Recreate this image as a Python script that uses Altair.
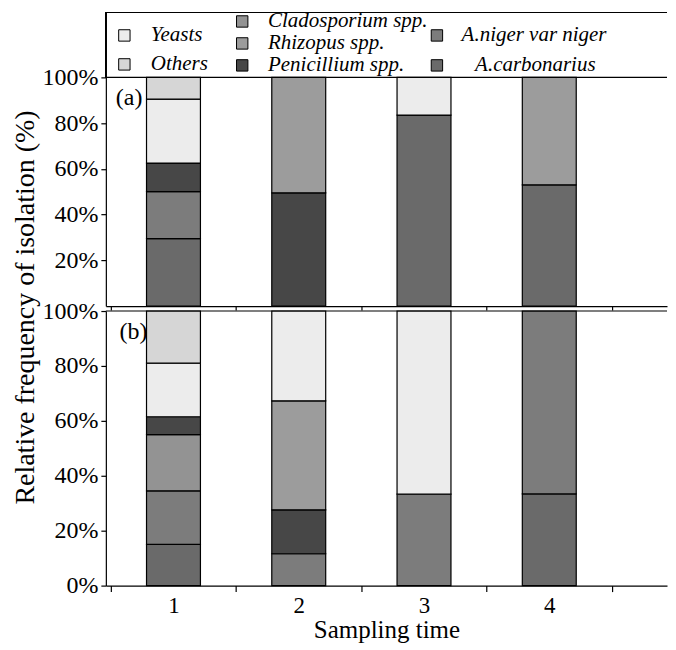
import altair as alt
import pandas as pd

# ---------------- data ----------------
times = [1, 2, 3, 4]
species = ["A.carbonarius", "A.niger var niger", "Cladosporium spp.",
           "Penicillium spp.", "Rhizopus spp.", "Yeasts", "Others"]

# panel (a): relative frequency (%) per sampling time 1..4
carbonarius_a = [29.5, 0, 83.5, 53.0]
niger_a = [20.5, 0, 0, 0]
clado_a = [0, 0, 0, 0]
penicillium_a = [12.5, 49.5, 0, 0]
rhizopus_a = [0, 50.5, 0, 47.0]
yeasts_a = [28.0, 0, 16.5, 0]
others_a = [9.5, 0, 0, 0]

# panel (b)
carbonarius_b = [15.0, 0, 0, 33.4]
niger_b = [19.5, 11.6, 33.3, 66.6]
clado_b = [20.5, 0, 0, 0]
penicillium_b = [6.5, 16.0, 0, 0]
rhizopus_b = [0, 39.7, 0, 0]
yeasts_b = [19.5, 32.7, 66.7, 0]
others_b = [19.0, 0, 0, 0]

y_ticks_a = [20, 40, 60, 80, 100]
y_ticks_b = [0, 20, 40, 60, 80, 100]
x_axis_values = [0.5, 1, 1.5, 2, 2.5, 3, 3.5, 4, 4.5]

# legend layout (column / row placement in legend box units)
legend_names = ["Yeasts", "Others", "Cladosporium spp.", "Rhizopus spp.",
                "Penicillium spp.", "A.niger var niger", "A.carbonarius"]
legend_sym_x = [0.033, 0.033, 0.243, 0.243, 0.243, 0.590, 0.590]
legend_txt_x = [0.080, 0.080, 0.289, 0.289, 0.289, 0.634, 0.658]
legend_row = [23, 52, 9, 31, 53, 23, 53]

fills = ["#6a6a6a", "#7c7c7c", "#939393", "#474747", "#9c9c9c", "#ececec", "#d6d6d6"]

FONT = "Liberation Serif"
W = 562


def long_table(cols):
    rows = []
    for k, sp in enumerate(species):
        for t, v in zip(times, cols[k]):
            if v > 0:
                rows.append({"time": t, "species": sp, "value": v, "order": k})
    return pd.DataFrame(rows)


df_a = long_table([carbonarius_a, niger_a, clado_a, penicillium_a, rhizopus_a, yeasts_a, others_a])
df_b = long_table([carbonarius_b, niger_b, clado_b, penicillium_b, rhizopus_b, yeasts_b, others_b])

fill_scale = alt.Scale(domain=species, range=fills)
x_scale = alt.Scale(domain=[0.5, 4.9], nice=False, zero=False)
y_scale = alt.Scale(domain=[0, 100], nice=False)

tick_cond = {"condition": {"test": "datum.value % 1 == 0", "value": 0}, "value": 1}


def panel(df, label, lab_x, lab_y, yticks, h, bottom):
    if bottom:
        xaxis = alt.Axis(values=x_axis_values, labelExpr="datum.value % 1 == 0 ? datum.value : ''",
                         tickOpacity=tick_cond, tickSize=6, labelFontSize=23, labelPadding=3,
                         title="Sampling time", titleFontSize=25, titleFontWeight="normal",
                         titlePadding=0, grid=False)
    else:
        xaxis = alt.Axis(values=x_axis_values, labels=False, tickOpacity=tick_cond,
                         tickSize=4, title=None, grid=False)
    yargs = dict(values=yticks, labelExpr="datum.value + '%'", tickSize=5,
                 labelFontSize=24, labelPadding=3, grid=False)
    if bottom:
        yargs.update(title="Relative frequency of isolation (%)", titleFontSize=28,
                     titleFontWeight="normal", titleY=-4, titlePadding=2)
    else:
        yargs.update(title=None)
    bars = alt.Chart(df).mark_bar(size=54, stroke="black", strokeWidth=1.2).encode(
        x=alt.X("time:Q", scale=x_scale, axis=xaxis),
        y=alt.Y("value:Q", stack="zero", scale=y_scale, axis=alt.Axis(**yargs)),
        fill=alt.Fill("species:N", scale=fill_scale, legend=None),
        order=alt.Order("order:Q"),
    )
    top_line = alt.Chart(pd.DataFrame({"lab": [label]})).mark_rule(
        color="black", strokeWidth=1.2
    ).encode(y=alt.Y(datum=100))
    txt = alt.Chart(pd.DataFrame({"lab": [label]})).mark_text(
        font=FONT, fontSize=24, align="left", baseline="middle", color="black"
    ).encode(x=alt.X(datum=lab_x), y=alt.Y(datum=lab_y), text="lab:N")
    return alt.layer(bars, top_line, txt).properties(width=W, height=h)


pa = panel(df_a, "(a)", 0.54, 91.0, y_ticks_a, 229, False)
pb = panel(df_b, "(b)", 0.57, 92.5, y_ticks_b, 275, True)

leg_df = pd.DataFrame({"name": legend_names, "sx": legend_sym_x, "tx": legend_txt_x, "row": legend_row})
lx = alt.Scale(domain=[0, 1], nice=False)
ly = alt.Scale(domain=[65, 0], nice=False)
leg_sym = alt.Chart(leg_df).mark_square(size=130, stroke="black", strokeWidth=1, opacity=1).encode(
    x=alt.X("sx:Q", scale=lx, axis=None),
    y=alt.Y("row:Q", scale=ly, axis=None),
    fill=alt.Fill("name:N", scale=fill_scale, legend=None),
)
leg_txt = alt.Chart(leg_df).mark_text(font=FONT, fontSize=21, fontStyle="italic", align="left",
                                      baseline="middle", color="black").encode(
    x=alt.X("tx:Q", scale=lx, axis=None),
    y=alt.Y("row:Q", scale=ly, axis=None),
    text="name:N",
)
leg_top = alt.Chart(leg_df).mark_rule(color="black", strokeWidth=1.2).encode(y=alt.Y(datum=0, scale=ly))
leg_left = alt.Chart(leg_df).mark_rule(color="black", strokeWidth=1.2).encode(x=alt.X(datum=0, scale=lx))
legend = alt.layer(leg_sym, leg_txt, leg_top, leg_left).properties(width=W, height=65)

chart = alt.vconcat(
    legend,
    alt.vconcat(pa, pb, spacing=5, bounds="flush"),
    spacing=0, bounds="flush",
).properties(
    padding={"left": 4, "top": 2, "right": 0, "bottom": 0}
).configure_view(
    stroke=None
).configure_axis(
    labelFont=FONT, titleFont=FONT, labelColor="black", titleColor="black",
    domainColor="black", tickColor="black", domainWidth=1.2, tickWidth=1.2
)

chart.save("out.html", embed_options={"renderer": "svg", "actions": False})
